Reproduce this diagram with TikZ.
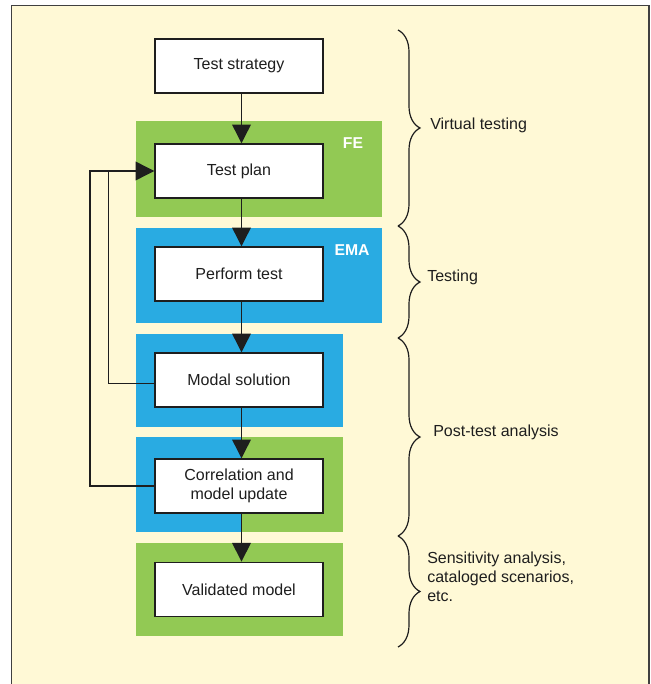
\documentclass[tikz,border=0pt]{standalone}
\usepackage{fontspec}
\setmainfont{Liberation Sans}
\usetikzlibrary{arrows.meta,decorations.pathreplacing,calc}
\definecolor{bgyellow}{HTML}{FFF9D6}
\definecolor{fegreen}{HTML}{92C954}
\definecolor{emablue}{HTML}{29ABE2}
\definecolor{ink}{HTML}{1E1E1E}
\begin{document}
\begin{tikzpicture}[x=0.75pt,y=-0.75pt,
  box/.style={draw=ink,line width=1.1pt,fill=white,minimum width=126pt,minimum height=40.5pt,align=center,inner sep=0pt,font=\fontsize{12}{14.3}\selectfont,text=ink},
  arr/.style={draw=ink,line width=1pt,-{Triangle[length=14pt,width=14pt]}},
  link/.style={draw=ink,line width=1pt},
  tag/.style={text=white,inner sep=0pt,font=\bfseries\fontsize{11.8}{14}\selectfont},
  lbl/.style={anchor=west,align=left,text=ink,font=\fontsize{12}{14.3}\selectfont,inner sep=0pt},
  brc/.style={draw=ink,line width=0.9pt,decorate,decoration={brace,amplitude=16.5pt}}]
\useasboundingbox (0,0) rectangle (650,684);
\begin{scope}
\clip (0,0) rectangle (650,684);
\fill[bgyellow] (11.5,5.5) rectangle (649,700);
\draw[line width=1.3pt,draw=ink!85] (11.5,700) -- (11.5,5.5) -- (649,5.5) -- (649,700);
\end{scope}
% coloured backgrounds
\fill[fegreen] (136,121) rectangle (381.7,216.7);
\fill[emablue] (136,228.3) rectangle (381.7,323.3);
\fill[emablue] (136,334) rectangle (343.3,426.7);
\fill[emablue] (136,437.3) rectangle (240.7,532.3);
\fill[fegreen] (240.7,437.3) rectangle (343.3,532.3);
\fill[fegreen] (136,543.3) rectangle (343.3,635.7);
\node[tag] (fe) at (353,143) {FE};
\node[tag] (ema) at (352,250) {EMA};
% boxes
\node[box] (ts) at (239,66) {Test strategy};
\node[box] (tp) at (239,171) {Test plan};
\node[box] (pt) at (239,274) {Perform test};
\node[box] (ms) at (239,380) {Modal solution};
\node[box] (cm) at (239,486) {Correlation and\\model update};
\node[box] (vm) at (239,589.3) {Validated model};
% arrows
\coordinate (ax) at (241.5,0);
\draw[arr] (ts.south -| ax) -- (tp.north -| ax);
\draw[arr] (tp.south -| ax) -- (pt.north -| ax);
\draw[arr] (pt.south -| ax) -- (ms.north -| ax);
\draw[arr] (ms.south -| ax) -- (cm.north -| ax);
\draw[arr] (cm.south -| ax) -- (vm.north -| ax);
% feedback
\coordinate (fb1) at (108.7,0);
\coordinate (fb2) at (90,0);
\coordinate (msw) at ([yshift=-2.5pt]ms.west);
\draw[link] (msw) -- (msw -| fb1) -- (tp.west -| fb1);
\draw[arr] (cm.west) -- (cm.west -| fb2) -- (tp.west -| fb2) -- (tp.west);
% braces
\coordinate (b0) at (398,30);
\coordinate (b1) at (398,226);
\coordinate (b2) at (398,338);
\coordinate (b3) at (398,536);
\coordinate (b4) at (398,647);
\draw[brc] (b0) -- (b1);
\draw[brc] (b1) -- (b2);
\draw[brc] (b2) -- (b3);
\draw[brc] (b3) -- (b4);
\node[lbl] (l1) at (430,125) {Virtual testing};
\node[lbl] (l2) at (427,277) {Testing};
\node[lbl] (l3) at (433,432) {Post-test analysis};
\node[lbl] (l4) at (427,577) {Sensitivity analysis,\\cataloged scenarios,\\etc.};
\end{tikzpicture}
\end{document}
